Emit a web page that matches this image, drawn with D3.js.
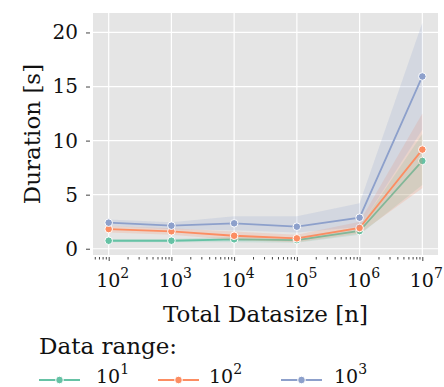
<!DOCTYPE html>
<html>
<head>
<meta charset="utf-8">
<script src="https://cdn.jsdelivr.net/npm/d3@7"></script>
<style>
  body { margin: 0; background: #fff; }
  text { font-family: "DejaVu Serif", serif; fill: #111; }
</style>
</head>
<body>
<svg id="chart" width="444" height="387"></svg>
<script>
// values
const sizes = [1e2, 1e3, 1e4, 1e5, 1e6, 1e7];
const rangeNames = ["1", "2", "3"];
const colors = ["#66c2a5", "#fc8d62", "#8da0cb"];

const dur10 = [0.74, 0.74, 0.87, 0.80, 1.64, 8.12];
const dur100 = [1.82, 1.61, 1.20, 0.96, 1.92, 9.17];
const dur1000 = [2.41, 2.13, 2.35, 2.04, 2.87, 15.93];

const lo10 = [0.6, 0.6, 0.6, 0.55, 1.3, 5.9];
const hi10 = [0.9, 0.9, 1.1, 1.05, 2.0, 10.6];
const lo100 = [1.5, 1.3, 0.8, 0.6, 1.4, 5.6];
const hi100 = [2.1, 1.9, 1.6, 1.3, 2.5, 12.5];
const lo1000 = [2.1, 1.8, 1.7, 1.5, 2.0, 11.0];
const hi1000 = [2.7, 2.45, 3.0, 3.0, 4.2, 20.9];

const yTicks = [0, 5, 10, 15, 20];

const series = [
  { name: rangeNames[0], color: colors[0], vals: dur10, lo: lo10, hi: hi10 },
  { name: rangeNames[1], color: colors[1], vals: dur100, lo: lo100, hi: hi100 },
  { name: rangeNames[2], color: colors[2], vals: dur1000, lo: lo1000, hi: hi1000 }
];

const margin = { left: 93, right: 6, top: 13, bottom: 132 };
const width = 444 - margin.left - margin.right;
const height = 387 - margin.top - margin.bottom;

const svg = d3.select('#chart');
const g = svg.append('g').attr('transform', `translate(${margin.left},${margin.top})`);

const pad = 0.05 * 5; // matplotlib style margin in decades
const x = d3.scaleLog()
  .domain([Math.pow(10, 2 - pad), Math.pow(10, 7 + pad)])
  .range([0, width]);
const y = d3.scaleLinear()
  .domain([-0.58, 21.8])
  .range([height, 0]);

g.append('rect')
  .attr('width', width)
  .attr('height', height)
  .attr('fill', '#e5e5e5');

// grid
g.selectAll('.vgrid')
  .data(sizes)
  .enter()
  .append('line')
  .attr('x1', d => x(d)).attr('x2', d => x(d))
  .attr('y1', 0).attr('y2', height)
  .attr('stroke', '#fff').attr('stroke-width', 1.2);
g.selectAll('.hgrid')
  .data(yTicks)
  .enter()
  .append('line')
  .attr('x1', 0).attr('x2', width)
  .attr('y1', d => y(d)).attr('y2', d => y(d))
  .attr('stroke', '#fff').attr('stroke-width', 1.2);

// y axis
const yAxis = d3.axisLeft(y).tickValues(yTicks).tickSize(4).tickPadding(8);
const yG = g.append('g').attr('transform', 'translate(-3,0)').call(yAxis);
yG.select('.domain').remove();
yG.selectAll('.tick line').attr('stroke', '#444');
yG.selectAll('.tick text')
  .style('font-family', '"DejaVu Serif", serif')
  .style('font-size', '20px')
  .attr('fill', '#111');

// x axis: minor ticks
const [x0, x1] = x.domain();
const minor = [];
for (let e = 1; e <= 7; e++) {
  for (let m = 2; m <= 9; m++) {
    const v = m * Math.pow(10, e);
    if (v >= x0 && v <= x1) minor.push(v);
  }
}
const xMinor = d3.axisBottom(x).tickValues(minor).tickSize(2.5).tickFormat('');
const xmG = g.append('g').attr('transform', `translate(0,${height + 2})`).call(xMinor);
xmG.select('.domain').remove();
xmG.selectAll('.tick line').attr('stroke', '#444');

const xAxis = d3.axisBottom(x).tickValues(sizes).tickSize(4).tickFormat('');
const xG = g.append('g').attr('transform', `translate(0,${height + 2})`).call(xAxis);
xG.select('.domain').remove();
xG.selectAll('.tick line').attr('stroke', '#444');

const xLab = g.selectAll('.xlab')
  .data(sizes)
  .enter()
  .append('text')
  .attr('x', d => x(d) + 4)
  .attr('y', 287 - margin.top)
  .attr('text-anchor', 'middle')
  .style('font-size', '19px');
xLab.append('tspan').text('10');
xLab.append('tspan')
  .attr('dy', -9)
  .style('font-size', '14px')
  .text(d => Math.round(Math.log10(d)));

// axis titles
g.append('text')
  .attr('x', width / 2)
  .attr('y', 322 - margin.top)
  .attr('text-anchor', 'middle')
  .style('font-size', '23px')
  .text('Total Datasize [n]');
g.append('text')
  .attr('transform', `translate(${40 - margin.left},${height / 2}) rotate(-90)`)
  .attr('text-anchor', 'middle')
  .style('font-size', '23px')
  .text('Duration [s]');

// bands, lines, markers
const area = d3.area()
  .x((d, i) => x(sizes[i]))
  .y0(d => y(d[0]))
  .y1(d => y(d[1]));
const line = d3.line()
  .x((d, i) => x(sizes[i]))
  .y(d => y(d));

series.forEach(s => {
  const band = s.lo.map((l, i) => [l, s.hi[i]]);
  g.append('path')
    .datum(band)
    .attr('d', area)
    .attr('fill', s.color)
    .attr('fill-opacity', 0.2);
  g.append('path')
    .datum(s.vals)
    .attr('d', line)
    .attr('fill', 'none')
    .attr('stroke', s.color)
    .attr('stroke-width', 1.8);
  g.selectAll(null)
    .data(s.vals)
    .enter()
    .append('circle')
    .attr('cx', (d, i) => x(sizes[i]))
    .attr('cy', d => y(d))
    .attr('r', 3.8)
    .attr('fill', s.color)
    .attr('stroke', '#fff')
    .attr('stroke-width', 1);
});

// legend
const leg = svg.append('g');
leg.append('text')
  .attr('x', 39)
  .attr('y', 354)
  .style('font-size', '23px')
  .text('Data range:');
const legX = [39, 158, 281];
const legTextX = [96, 209, 334];
series.forEach((s, i) => {
  leg.append('line')
    .attr('x1', legX[i]).attr('x2', legX[i] + 41)
    .attr('y1', 380).attr('y2', 380)
    .attr('stroke', s.color)
    .attr('stroke-width', 1.8);
  leg.append('circle')
    .attr('cx', legX[i] + 20.5).attr('cy', 380).attr('r', 3.8)
    .attr('fill', s.color)
    .attr('stroke', '#fff')
    .attr('stroke-width', 1);
  const t = leg.append('text')
    .attr('x', legTextX[i])
    .attr('y', 383)
    .style('font-size', '19px');
  t.append('tspan').text('10');
  t.append('tspan').attr('dy', -9).style('font-size', '14px').text(s.name);
});
</script>
</body>
</html>
